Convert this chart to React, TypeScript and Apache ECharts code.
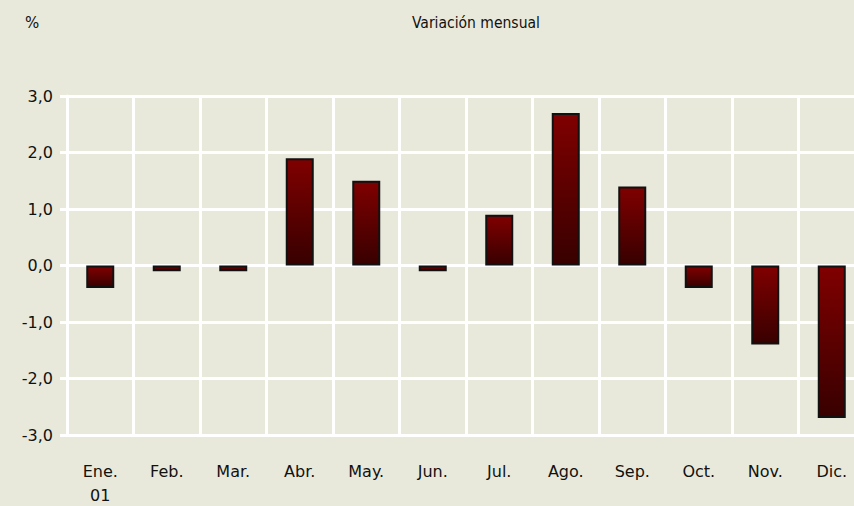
import React, { useEffect, useRef } from "react";
import * as echarts from "echarts";

const categories = ["Ene.\n01", "Feb.", "Mar.", "Abr.", "May.", "Jun.", "Jul.", "Ago.", "Sep.", "Oct.", "Nov.", "Dic."];
const values = [-0.4, -0.1, -0.1, 1.9, 1.5, -0.1, 0.9, 2.7, 1.4, -0.4, -1.4, -2.7];
const title = "Variación mensual";
const unit = "%";

const grad = new echarts.graphic.LinearGradient(0, 0, 0, 1, [
  { offset: 0, color: "#800000" },
  { offset: 1, color: "#380000" },
]);

export default function App() {
  const ref = useRef<HTMLDivElement>(null);
  useEffect(() => {
    if (!ref.current) return;
    const chart = echarts.init(ref.current, undefined, { renderer: "svg" });
    chart.setOption({
      animation: false,
      backgroundColor: "#E9E9DB",
      graphic: [
        {
          type: "text",
          left: 412,
          top: 15,
          style: { text: title, font: "15.5px 'DejaVu Sans Condensed', 'DejaVu Sans'", fill: "#111" },
        },
        {
          type: "text",
          left: 25,
          top: 15,
          style: { text: unit, font: "15px 'DejaVu Sans'", fill: "#111" },
        },
      ],
      grid: {
        left: 67,
        top: 96,
        width: 798,
        height: 339,
        containLabel: false,
        outerBoundsMode: "none",
      },
      xAxis: {
        type: "category",
        data: categories,
        axisLine: { show: false },
        axisTick: { show: false },
        axisLabel: {
          margin: 24,
          fontFamily: "DejaVu Sans",
          fontSize: 16,
          color: "#111",
          lineHeight: 24,
          interval: 0,
        },
        splitLine: { show: true, lineStyle: { color: "#ffffff", width: 3 } },
      },
      yAxis: {
        type: "value",
        min: -3,
        max: 3,
        interval: 1,
        axisLine: { show: true, lineStyle: { color: "#ffffff", width: 3 } },
        axisTick: { show: true, length: 7, lineStyle: { color: "#ffffff", width: 3 } },
        axisLabel: {
          margin: 14,
          fontFamily: "DejaVu Sans",
          fontSize: 16,
          color: "#111",
          formatter: (v: number) => v.toFixed(1).replace(".", ","),
        },
        splitLine: { show: true, lineStyle: { color: "#ffffff", width: 3 } },
      },
      series: [
        {
          type: "bar",
          data: values,
          barWidth: 28,
          itemStyle: { color: grad, borderColor: "#111", borderWidth: 2 },
        },
      ],
    });
    return () => chart.dispose();
  }, []);
  return <div ref={ref} style={{ width: 854, height: 506, position: "absolute", left: 0, top: 0 }} />;
}
